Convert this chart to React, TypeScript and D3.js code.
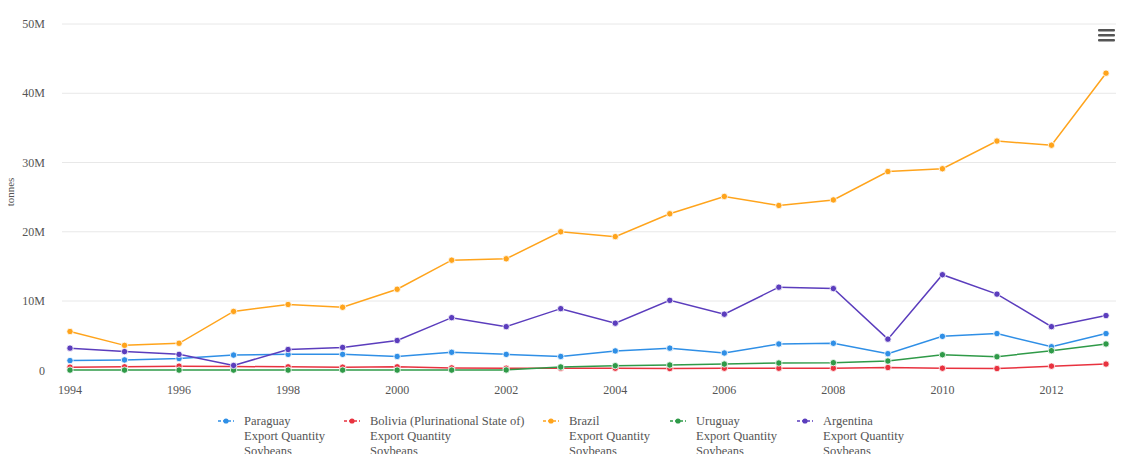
import React, { useRef, useEffect } from 'react';
import * as d3 from 'd3';

// years on the x axis
const years = d3.range(1994, 2014);

// export quantity, soybeans, tonnes
const paraguay = [1.4e6, 1.5e6, 1.7e6, 2.2e6, 2.3e6, 2.3e6, 2.0e6, 2.6e6, 2.3e6, 2.0e6, 2.8e6, 3.2e6, 2.5e6, 3.8e6, 3.9e6, 2.4e6, 4.9e6, 5.3e6, 3.4e6, 5.3e6];
const bolivia = [0.45e6, 0.5e6, 0.6e6, 0.55e6, 0.5e6, 0.45e6, 0.5e6, 0.35e6, 0.3e6, 0.3e6, 0.3e6, 0.25e6, 0.3e6, 0.3e6, 0.3e6, 0.4e6, 0.3e6, 0.25e6, 0.6e6, 0.9e6];
const brazil = [5.6e6, 3.6e6, 3.9e6, 8.5e6, 9.5e6, 9.1e6, 11.7e6, 15.9e6, 16.1e6, 20.0e6, 19.3e6, 22.6e6, 25.1e6, 23.8e6, 24.6e6, 28.7e6, 29.1e6, 33.1e6, 32.5e6, 42.9e6];
const uruguay = [0.03e6, 0.03e6, 0.03e6, 0.03e6, 0.03e6, 0.03e6, 0.03e6, 0.03e6, 0.05e6, 0.48e6, 0.66e6, 0.76e6, 0.9e6, 1.05e6, 1.1e6, 1.34e6, 2.25e6, 1.96e6, 2.83e6, 3.8e6];
const argentina = [3.2e6, 2.7e6, 2.3e6, 0.7e6, 3.0e6, 3.3e6, 4.3e6, 7.6e6, 6.3e6, 8.9e6, 6.8e6, 10.1e6, 8.1e6, 12.0e6, 11.8e6, 4.5e6, 13.8e6, 11.0e6, 6.3e6, 7.9e6];

const seriesNames = ['Paraguay', 'Bolivia (Plurinational State of)', 'Brazil', 'Uruguay', 'Argentina'];
const seriesValues = [paraguay, bolivia, brazil, uruguay, argentina];
const seriesColors = ['#2f8fe6', '#e8323f', '#ffa41c', '#2f9a48', '#5b3dbd'];

const yTicks = [0, 10e6, 20e6, 30e6, 40e6, 50e6];
const xTicks = [1994, 1996, 1998, 2000, 2002, 2004, 2006, 2008, 2010, 2012];

function App() {
  const svgRef = useRef(null);

  useEffect(() => {
    const w = 1124;
    const h = 462;
    const svg = d3
      .select(svgRef.current)
      .attr('width', w)
      .attr('height', h)
      .style('display', 'block')
      .style('font-family', "'Liberation Serif', 'Times New Roman', serif");
    svg.selectAll('*').remove();

    const xScale = d3.scaleLinear().domain([1994, 2013]).range([70, 1106]);
    const yScale = d3.scaleLinear().domain([0, 50e6]).range([370.3, 24]);

    // grid
    svg
      .append('g')
      .selectAll('line')
      .data(yTicks.filter((t) => t > 0))
      .join('line')
      .attr('x1', 62)
      .attr('x2', 1116)
      .attr('y1', (d) => yScale(d))
      .attr('y2', (d) => yScale(d))
      .attr('stroke', '#e8e8e8')
      .attr('stroke-width', 1);

    // y axis labels
    const fmt = (d) => (d === 0 ? '0' : d / 1e6 + 'M');
    svg
      .append('g')
      .selectAll('text')
      .data(yTicks)
      .join('text')
      .attr('x', 45)
      .attr('y', (d) => yScale(d))
      .attr('dy', '0.35em')
      .attr('text-anchor', 'end')
      .attr('font-size', 12)
      .attr('fill', '#555')
      .text(fmt);

    svg
      .append('text')
      .attr('transform', 'translate(14,192) rotate(-90)')
      .attr('text-anchor', 'middle')
      .attr('font-size', 11)
      .attr('fill', '#555')
      .text('tonnes');

    // x axis labels
    svg
      .append('g')
      .selectAll('text')
      .data(xTicks)
      .join('text')
      .attr('x', (d) => xScale(d))
      .attr('y', 394)
      .attr('text-anchor', 'middle')
      .attr('font-size', 12)
      .attr('fill', '#555')
      .text((d) => d);

    const line = d3
      .line()
      .x((d, i) => xScale(years[i]))
      .y((d) => yScale(d));

    // draw series in the original order
    seriesValues.forEach((vals, k) => {
      const g = svg.append('g');
      g.append('path')
        .attr('d', line(vals))
        .attr('fill', 'none')
        .attr('stroke', seriesColors[k])
        .attr('stroke-width', 1.5);
      g.selectAll('circle')
        .data(vals)
        .join('circle')
        .attr('cx', (d, i) => xScale(years[i]))
        .attr('cy', (d) => yScale(d))
        .attr('r', 3.2)
        .attr('fill', seriesColors[k])
        .attr('stroke', '#fff')
        .attr('stroke-width', 0.8);
    });

    // legend
    const legendX = [218, 344, 543, 670, 797];
    const legend = svg.append('g');
    seriesNames.forEach((name, k) => {
      const x0 = legendX[k];
      const item = legend.append('g').attr('transform', `translate(${x0},421)`);
      item
        .append('line')
        .attr('x1', 0)
        .attr('x2', 16)
        .attr('y1', 0)
        .attr('y2', 0)
        .attr('stroke', seriesColors[k])
        .attr('stroke-width', 1.5)
        .attr('stroke-dasharray', '3,2');
      item.append('circle').attr('cx', 8).attr('cy', 0).attr('r', 2.6).attr('fill', seriesColors[k]);
      [name, 'Export Quantity', 'Soybeans'].forEach((t, j) => {
        item
          .append('text')
          .attr('x', 26)
          .attr('y', j * 15)
          .attr('dy', '0.35em')
          .attr('font-size', 12.5)
          .attr('fill', '#555')
          .text(t);
      });
    });

    // menu icon
    svg
      .append('g')
      .selectAll('rect')
      .data([0, 1, 2])
      .join('rect')
      .attr('x', 1098)
      .attr('y', (d) => 29 + d * 5)
      .attr('width', 17)
      .attr('height', 2.6)
      .attr('rx', 1)
      .attr('fill', '#555');
  }, []);

  return (
    <div style={{ margin: -8 }}>
      <svg ref={svgRef}></svg>
    </div>
  );
}

export default App;
